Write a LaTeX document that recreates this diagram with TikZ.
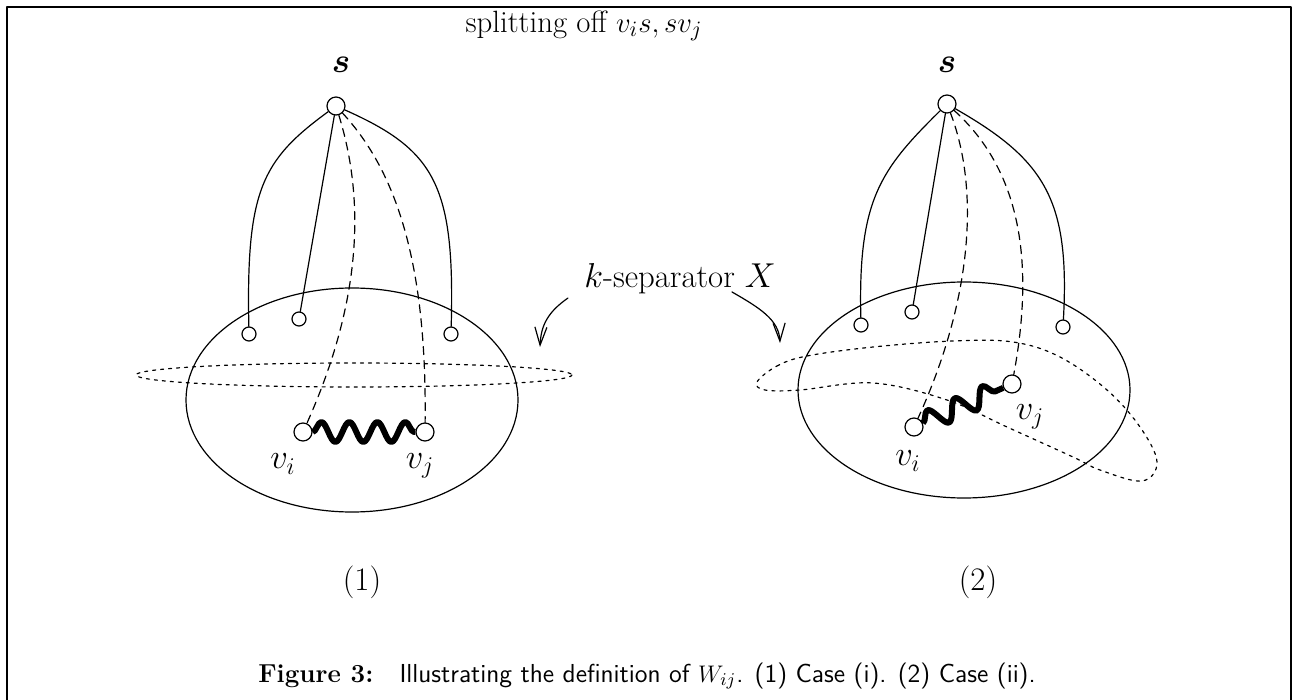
\documentclass[tikz,border=0pt]{standalone}
\usepackage{bm}
\usetikzlibrary{arrows.meta,decorations.pathmorphing}

\begin{document}
\begin{tikzpicture}[x=0.5pt, y=-0.5pt, font=\fontsize{16.4}{19}\selectfont, line join=round, line cap=round,
		vtx/.style={circle, draw, line width=0.6pt, inner sep=0pt, minimum size=9pt},
		leaf/.style={circle, draw, line width=0.6pt, inner sep=0pt, minimum size=7pt},
		edge/.style={line width=0.6pt},
		split/.style={line width=0.6pt, dash pattern=on 4pt off 3pt},
		cut/.style={line width=0.6pt, dash pattern=on 1.5pt off 2.5pt},
		wave/.style={line width=3pt, line cap=butt, decorate, decoration={snake, amplitude=5pt, segment length=14pt}},
		pointer/.style={line width=0.6pt, -{Straight Barb[length=9pt, width=6pt]}}]
			\useasboundingbox (0,0) rectangle (1297,700);
			\draw[line width=1.2pt, line cap=butt] (7,700) -- (7,7) -- (1291,7) -- (1291,700);
			
			\node (title) at (584,26) {\fontsize{15.4}{18}\selectfont splitting off $v_is, sv_j$};
			\node (sep) at (680,279) {$k$-separator $X$};
			\node (cap) at (647,676) {\fontsize{13}{15}\selectfont\textbf{Figure 3:}\quad\textsf{Illustrating the definition of $W_{ij}$. (1) Case (i). (2) Case (ii).}};
			
			% (1)
			\draw[edge] (352,400) ellipse [x radius=166, y radius=112];
			\draw[cut] (354,375) ellipse [x radius=218, y radius=12];
			\node[vtx] (s) at (336,106) {};
			\node (sl) at (341,65) {$\bm{s}$};
			\node[leaf] (a1) at (249,334) {};
			\node[leaf] (a2) at (299,319) {};
			\node[leaf] (a3) at (451,334) {};
			\node[vtx] (vi) at (303,432) {};
			\node[vtx] (vj) at (425,432) {};
			\node (vil) at (283,464) {$v_i$};
			\node (vjl) at (420,466) {$v_j$};
			\draw[edge] (s) .. controls (262,160) and (246,190) .. (a1);
			\draw[edge] (s) -- (a2);
			\draw[edge] (s) .. controls (435,150) and (455,185) .. (a3);
			\draw[split] (s) .. controls (365,200) and (362,300) .. (vi);
			\draw[split] (s) .. controls (395,170) and (427,260) .. (vj);
			\draw[wave] (vi) -- (vj);
			\node (c1) at (362,582) {(1)};
			
			% (2)
			\draw[edge] (964,390) ellipse [x radius=166, y radius=108];
			\draw[cut] plot[smooth cycle, tension=0.6] coordinates {(757,382) (777,366) (807,356) (873,347) (953,341) (1013,342) (1060,357) (1107,390) (1140,427) (1157,462) (1142,481) (1100,470) (1073,457) (1007,427) (947,400) (873,383) (800,390) (765,390)};
			\node[vtx] (s2) at (947,104) {};
			\node (sl2) at (947,65) {$\bm{s}$};
			\node[leaf] (b1) at (861,325) {};
			\node[leaf] (b2) at (912,312) {};
			\node[leaf] (b3) at (1063,327) {};
			\node[vtx] (wi) at (914,427) {};
			\node[vtx] (wj) at (1012,384) {};
			\node (wil) at (908,461) {$v_i$};
			\node (wjl) at (1030,417) {$v_j$};
			\draw[edge] (s2) .. controls (880,170) and (858,200) .. (b1);
			\draw[edge] (s2) -- (b2);
			\draw[edge] (s2) .. controls (1045,160) and (1070,200) .. (b3);
			\draw[split] (s2) .. controls (980,190) and (972,300) .. (wi);
			\draw[split] (s2) .. controls (1020,170) and (1035,260) .. (wj);
			\draw[wave, decoration={segment length=15pt}] (wi) -- (wj);
			\node (c2) at (978,582) {(2)};
			
			\coordinate (p1) at (568,298);
			\coordinate (q1) at (540,347);
			\coordinate (p2) at (732,292);
			\coordinate (q2) at (780,343);
			\draw[pointer] (p1) .. controls (548,312) and (541,325) .. (q1);
			\draw[pointer] (p2) .. controls (760,308) and (779,320) .. (q2);
			
		\end{tikzpicture}
\end{document}
